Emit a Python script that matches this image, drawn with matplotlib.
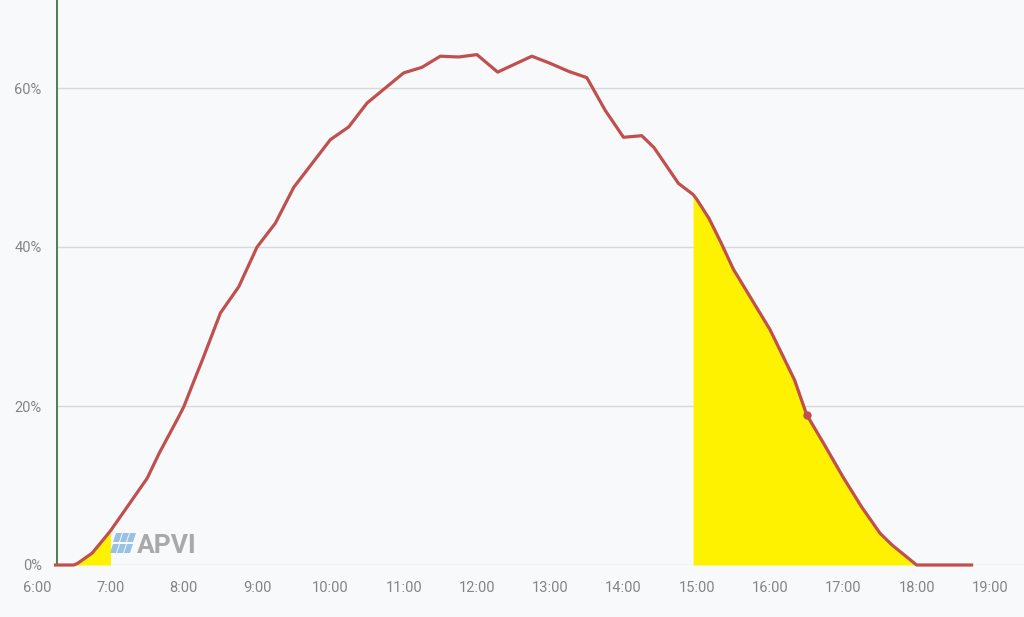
#Solar output curve (percent of capacity) over one day, with shaded periods
import numpy as np
import matplotlib
matplotlib.use("Agg")
import matplotlib.pyplot as plt
from matplotlib.patches import Polygon
from matplotlib.transforms import blended_transform_factory

#Data
times = ["6:15","6:30","6:33","6:45","6:52","7:00","7:15","7:30","7:40","7:55","8:00","8:10","8:15",
         "8:30","8:45","9:00","9:15","9:30","10:00","10:15","10:30","10:45","11:00","11:15","11:30",
         "11:45","12:00","12:17","12:45","13:00","13:15","13:30","13:45","14:00","14:15","14:25",
         "14:45","14:57","15:00","15:10","15:20","15:30","16:00","16:20","16:30","16:45","17:00",
         "17:15","17:30","17:40","18:00","18:45"]
output = [0,0,0.2,1.5,2.8,4.3,7.6,10.9,14.1,18.4,19.9,23.8,25.7,
          31.7,35.0,40.0,43.0,47.5,53.5,55.1,58.1,60.0,61.9,62.6,64.0,
          63.9,64.2,62.0,64.0,63.1,62.1,61.3,57.2,53.8,54.0,52.5,
          48.0,46.6,46.0,43.6,40.5,37.2,29.6,23.3,18.9,15.0,11.0,
          7.3,4.0,2.5,0,0]
shade_spans = [("6:30","7:00"), ("14:57","18:00")]
marker_time = "16:30"
hour_labels = ["6:00","7:00","8:00","9:00","10:00","11:00","12:00","13:00","14:00",
               "15:00","16:00","17:00","18:00","19:00"]
pct_ticks = [0, 20, 40, 60]

def to_hours(s):
    h, m = s.split(":")
    return int(h) + int(m)/60.

t = np.array([to_hours(s) for s in times])
v = np.array(output)

bg = "#f8f9fb"
fig = plt.figure(figsize=(10.24, 6.17), dpi=100, facecolor=bg)
ax = fig.add_axes([57/1024, 52/617, 1-57/1024, 565/617])
ax.set_facecolor(bg)

#Yellow shaded periods
for a, b in shade_spans:
    mask = (t >= to_hours(a)) & (t <= to_hours(b))
    ax.fill_between(t, 0, v, where=mask, color="#fff200", linewidth=0, zorder=2)

#Output curve
ax.plot(t, v, color="#c0504d", linewidth=2.3, solid_joinstyle="round", clip_on=False, zorder=3)
mt = to_hours(marker_time)
ax.plot([mt], [v[times.index(marker_time)]], "o", color="#c0504d", markersize=5, zorder=4)

ax.set_xlim(6.27, 6 + (1024-37)/73.3)
ax.set_ylim(0, 565/7.95)

#Grid and axes
ax.set_yticks(pct_ticks)
ax.set_yticklabels([f"{p}%" for p in pct_ticks])
ax.grid(axis="y", color="#d8d8d8", linewidth=1)
ax.set_axisbelow(True)
for s in ["top", "right", "bottom"]:
    ax.spines[s].set_visible(False)
ax.spines["left"].set_color("#2d6b3c")
ax.spines["left"].set_linewidth(1.2)
ax.tick_params(axis="y", length=0, pad=11, labelsize=10.5, labelcolor="#858585")
ax.set_xticks([])

#Hour labels (6:00 sits left of the plot area)
trans = blended_transform_factory(ax.transData, ax.transAxes)
for lab in hour_labels:
    ax.text(to_hours(lab), -23/565, lab, transform=trans, ha="center", va="center",
            fontsize=10.5, color="#858585", clip_on=False)

for lab in ax.get_yticklabels():
    lab.set_fontfamily(["Roboto", "DejaVu Sans"])
for txt in ax.texts:
    txt.set_fontfamily(["Roboto", "DejaVu Sans"])

#APVI watermark
def px(x, y):
    return (x/1024, 1 - y/617)
cells = []
for row, (y0, y1) in enumerate([(533, 542), (544, 553)]):
    for col in range(3):
        xl = 116 + col*7 - row*3
        cells.append([px(xl, y0), px(xl+6, y0), px(xl+6-3, y1), px(xl-3, y1)])
for c in cells:
    fig.patches.append(Polygon(c, closed=True, transform=fig.transFigure,
                               facecolor="#8fbbe4", edgecolor="none", alpha=0.9))
fig.text(137/1024, 1-553/617, "APVI", fontsize=19, fontweight="bold", color="#a9a9a9",
         family=["Roboto", "DejaVu Sans"], ha="left", va="baseline")

fig.savefig("out.png", dpi=100, facecolor=bg)
